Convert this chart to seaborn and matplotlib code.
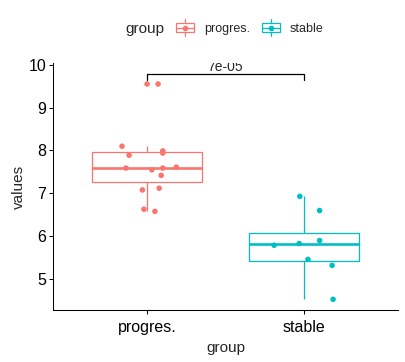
import numpy as np
import pandas as pd
import matplotlib
matplotlib.use("Agg")
import matplotlib.pyplot as plt
import seaborn as sns
from matplotlib.legend_handler import HandlerBase
from matplotlib.patches import Rectangle
from matplotlib.lines import Line2D

# values
groups = ["progres.", "stable"]
colors = ["#F8766D", "#00BFC4"]

progres_values = [9.55, 9.55, 8.10, 7.89, 7.99, 7.94, 7.59, 7.55, 7.59, 7.42, 7.61, 7.08, 7.12, 6.63, 6.58]
progres_jitter = [0.00, 0.07, -0.16, -0.115, 0.10, 0.10, -0.135, 0.03, 0.10, 0.09, 0.186, -0.03, 0.077, -0.02, 0.05]
stable_values = [6.93, 6.60, 5.90, 5.83, 5.79, 5.46, 5.32, 4.53]
stable_jitter = [-0.026, 0.10, 0.10, -0.03, -0.19, 0.026, 0.18, 0.186]
p_label = "7e-05"

df = pd.DataFrame({
    "group": ["progres."] * len(progres_values) + ["stable"] * len(stable_values),
    "values": progres_values + stable_values,
    "jitter": progres_jitter + stable_jitter,
})
df["xpos"] = df["group"].map({g: i for i, g in enumerate(groups)}) + df["jitter"]


# legend key that looks like a little boxplot with a dot
class BoxKey(HandlerBase):
    def create_artists(self, legend, orig, xd, yd, w, h, fs, trans):
        c = orig.get_color()
        x0, y0 = -xd, -yd
        cx, cy = x0 + w / 2, y0 + h / 2
        box = Rectangle((x0, y0 + h * 0.22), w, h * 0.56, fill=False, edgecolor=c, lw=0.9, transform=trans)
        wlo = Line2D([cx, cx], [y0, y0 + h * 0.22], color=c, lw=0.9, transform=trans)
        whi = Line2D([cx, cx], [y0 + h * 0.78, y0 + h], color=c, lw=0.9, transform=trans)
        med = Line2D([x0, x0 + w], [cy, cy], color=c, lw=0.9, transform=trans)
        dot = Line2D([cx], [cy], marker="o", ms=3, color=c, mec=c, lw=0, transform=trans)
        return [box, wlo, whi, med, dot]


sns.set_style("ticks")
plt.rcParams["font.family"] = ["Liberation Sans", "DejaVu Sans"]

fig = plt.figure(figsize=(4.06, 3.62), dpi=100)
ax = fig.add_axes([53 / 406, 1 - 310 / 362, (398 - 53) / 406, (310 - 63) / 362])

sns.boxplot(data=df, x="group", y="values", hue="group", order=groups, hue_order=groups,
            palette=colors, fill=False, width=0.7, showfliers=False, showcaps=False,
            linewidth=0.9, medianprops={"linewidth": 1.9}, legend=False, ax=ax)
sns.scatterplot(data=df, x="xpos", y="values", hue="group", hue_order=groups, palette=colors,
                s=16, linewidth=0, legend=False, ax=ax, zorder=3)

# significance bracket
ax.plot([0, 0, 1, 1], [9.65, 9.78, 9.78, 9.65], color="black", lw=0.9, zorder=4)
ax.text(0.5, 9.79, p_label, ha="center", va="bottom", fontsize=10, clip_on=True)

ax.set_xlim(-0.6, 1.6)
ax.set_ylim(4.28, 10.04)
ax.set_xticks([0, 1])
ax.set_xticklabels(groups)
ax.set_yticks([5, 6, 7, 8, 9, 10])
ax.tick_params(axis="both", labelsize=11.5, length=3, width=0.75, colors="black", pad=2)
ax.tick_params(axis="x", pad=4.5)
ax.set_xlabel("group", fontsize=11, labelpad=4)
ax.set_ylabel("values", fontsize=11, labelpad=2)
sns.despine(ax=ax)
for s in ["left", "bottom"]:
    ax.spines[s].set_linewidth(0.75)
    ax.spines[s].set_color("black")

# legend on top
fig.text(125 / 406, 1 - 28.5 / 362, "group", fontsize=11, ha="left", va="center")
handles = [Line2D([], [], color=c) for c in colors]
fig.legend(handles, groups, loc="center left", bbox_to_anchor=(176 / 406, 1 - 27.5 / 362),
           ncol=2, frameon=False, fontsize=9, handler_map={Line2D: BoxKey()},
           handlelength=1.44, handleheight=1.6, handletextpad=0.82, columnspacing=0.93,
           borderpad=0, borderaxespad=0)

fig.savefig("out.png", dpi=100, facecolor="white")
